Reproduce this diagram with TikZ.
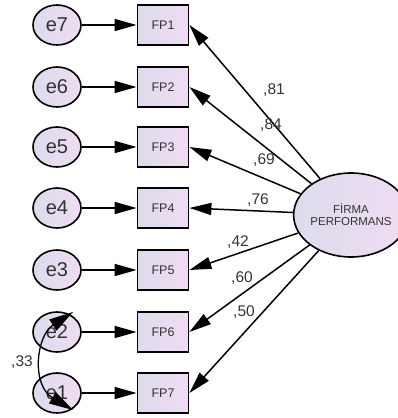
\documentclass[tikz,border=0pt]{standalone}
\usepackage{fontspec}
\setmainfont{Liberation Sans}
\usetikzlibrary{shapes.geometric,arrows.meta}
\definecolor{fillL}{HTML}{DCDCEC}
\definecolor{fillR}{HTML}{F0DCF2}
\definecolor{txt}{HTML}{333333}
\begin{document}
\begin{tikzpicture}[x=1pt,y=-1pt,
  errnode/.style={ellipse,draw,line width=1.6pt,minimum width=48pt,minimum height=40pt,inner sep=0pt,
    left color=fillL,right color=fillR,text=txt,font=\fontsize{20}{20}\selectfont},
  obsnode/.style={rectangle,draw,line width=1.8pt,minimum width=51pt,minimum height=40pt,inner sep=0pt,
    left color=fillL,right color=fillR,text=txt,font=\fontsize{12.5}{12.5}\selectfont},
  latnode/.style={ellipse,draw,line width=1.6pt,minimum width=96pt,minimum height=84pt,inner sep=0pt,
    left color=fillL,right color=fillR,text=txt,align=center,font=\fontsize{11.5}{13}\selectfont},
  arr/.style={line width=1.5pt,-{Triangle[length=22pt,width=12pt]}},
  cov/.style={line width=1.3pt,{Triangle[length=24pt,width=13pt]}-{Triangle[length=24pt,width=13pt]}},
  coef/.style={text=txt,font=\fontsize{15.5}{15.5}\selectfont,inner sep=0pt}]
\useasboundingbox (0,0) rectangle (398,418);
\foreach \i/\e/\y in {1/7/25,2/6/87,3/5/147,4/4/208,5/3/270,6/2/332,7/1/393}{
  \node[errnode] (e\e) at (57,\y) {e\e};
  \node[obsnode] (FP\i) at (163,\y) {FP\i};
  \draw[arr] (e\e) -- (FP\i);
}
\node[latnode] (F) at (351,215) {F\.IRMA\\[-1pt]PERFORMANS};
\foreach \i in {1,...,7}{
  \draw[arr] (F) -- (FP\i.east);
}
\node[coef] (c1) at (274,90) {,81};
\node[coef] (c2) at (271,125) {,84};
\node[coef] (c3) at (264,160) {,69};
\node[coef] (c4) at (258,200) {,76};
\node[coef] (c5) at (238,242) {,42};
\node[coef] (c6) at (242,278) {,60};
\node[coef] (c7) at (244,312) {,50};
\node[coef] (c33) at (22,362) {,33};
\coordinate (covA) at (73,312);
\coordinate (covB) at (73,410);
\draw[cov] (covA) .. controls (36,336) and (31,385) .. (covB);
\end{tikzpicture}
\end{document}
